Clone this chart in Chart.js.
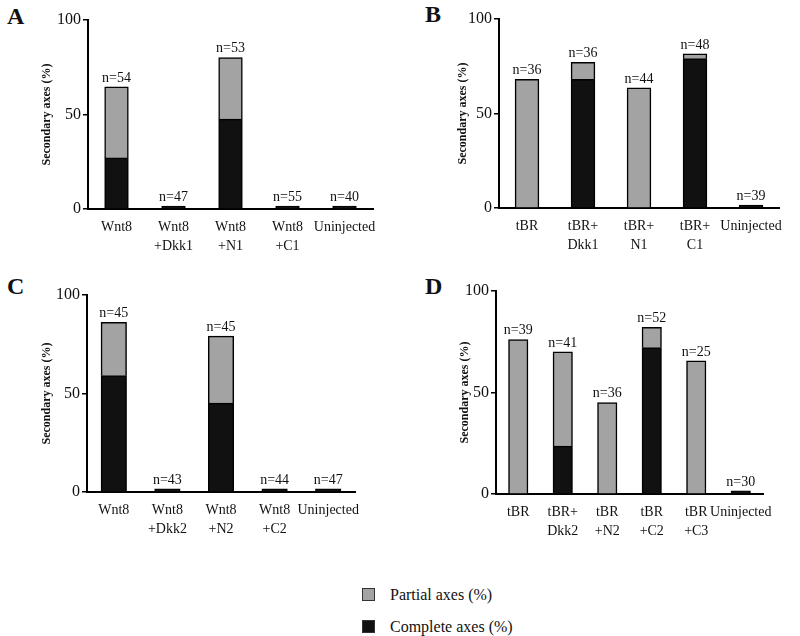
<!DOCTYPE html>
<html>
<head>
<meta charset="utf-8">
<script src="https://cdn.jsdelivr.net/npm/chart.js@4.4.0/dist/chart.umd.min.js"></script>
<style>
    body { margin: 0; background: #fff; font-family: 'Liberation Serif', serif; }
    .panel { position: absolute; }
    .letter { position: absolute; font-weight: bold; font-size: 24px; color: #111; }
    .legend { position: absolute; left: 362px; font-size: 16px; color: #111; }
    .legend span.box { display: inline-block; width: 11px; height: 11px; border: 1px solid #333; margin-right: 15px; vertical-align: -1px; }
</style>
</head>
<body>
<div class="letter" style="left:7px; top:3px;">A</div>
<div class="letter" style="left:425px; top:1px;">B</div>
<div class="letter" style="left:7px; top:273px;">C</div>
<div class="letter" style="left:425px; top:273px;">D</div>

<div class="panel" style="left:0; top:0; width:400px; height:260px;"><canvas id="chartA"></canvas></div>
<div class="panel" style="left:400px; top:0; width:400px; height:260px;"><canvas id="chartB"></canvas></div>
<div class="panel" style="left:0; top:270px; width:400px; height:270px;"><canvas id="chartC"></canvas></div>
<div class="panel" style="left:400px; top:270px; width:400px; height:270px;"><canvas id="chartD"></canvas></div>

<div class="legend" style="top:586px;"><span class="box" style="background:#a3a3a3;"></span>Partial axes (%)</div>
<div class="legend" style="top:618px;"><span class="box" style="background:#111;"></span>Complete axes (%)</div>

<script>
// Panel A
const labelsA = [['Wnt8'], ['Wnt8', '+Dkk1'], ['Wnt8', '+N1'], ['Wnt8', '+C1'], ['Uninjected']];
const completeA = [27, 1.5, 47.5, 1.5, 1.5];
const partialA = [37.5, 0, 32.5, 0, 0];
const countsA = [54, 47, 53, 55, 40];

// Panel B
const labelsB = [['tBR'], ['tBR+', 'Dkk1'], ['tBR+', 'N1'], ['tBR+', 'C1'], ['Uninjected']];
const completeB = [0, 68, 0, 79, 1.5];
const partialB = [68, 9, 63.5, 2.5, 0];
const countsB = [36, 36, 44, 48, 39];

// Panel C
const labelsC = [['Wnt8'], ['Wnt8', '+Dkk2'], ['Wnt8', '+N2'], ['Wnt8', '+C2'], ['Uninjected']];
const completeC = [59, 1.5, 45, 1.5, 1.5];
const partialC = [27, 0, 34, 0, 0];
const countsC = [45, 43, 45, 44, 47];

// Panel D
const labelsD = [['tBR'], ['tBR+', 'Dkk2'], ['tBR', '+N2'], ['tBR', '+C2'], ['tBR', '+C3'], ['Uninjected']];
const completeD = [0, 23.5, 0, 72, 0, 1.5];
const partialD = [76, 46.5, 45, 10, 65.5, 0];
const countsD = [39, 41, 36, 52, 25, 30];

const yTicks = [0, 50, 100];

const serif = 'Liberation Serif';
const partialColor = '#a3a3a3';
const completeColor = '#111111';

// draws the "n=.." counts above each stacked bar
const countLabels = {
    id: 'countLabels',
    afterDatasetsDraw(chart) {
        const counts = chart.options.plugins.countLabels.counts;
        const ctx = chart.ctx;
        const xScale = chart.scales.x;
        const yScale = chart.scales.y;
        ctx.save();
        ctx.font = '14px "' + serif + '"';
        ctx.fillStyle = '#111';
        ctx.textAlign = 'center';
        ctx.textBaseline = 'bottom';
        counts.forEach((n, i) => {
            const total = chart.data.datasets.reduce((sum, ds) => sum + ds.data[i], 0);
            const x = xScale.getPixelForValue(i);
            const y = yScale.getPixelForValue(total);
            ctx.fillText('n=' + n, x, y - 2);
        });
        ctx.restore();
    }
};

function makeChart(id, labels, complete, partial, counts, cfg) {
    const ctx = document.getElementById(id).getContext('2d');
    return new Chart(ctx, {
        type: 'bar',
        data: {
            labels: labels,
            datasets: [{
                label: 'Complete axes (%)',
                data: complete,
                backgroundColor: completeColor,
                borderColor: '#000',
                borderWidth: 1.5,
                inflateAmount: 0.5
            }, {
                label: 'Partial axes (%)',
                data: partial,
                backgroundColor: partialColor,
                borderColor: '#000',
                borderWidth: 1.5,
                inflateAmount: 0.5
            }]
        },
        options: {
            responsive: true,
            maintainAspectRatio: false,
            animation: false,
            datasets: {
                bar: {
                    categoryPercentage: 1,
                    barPercentage: cfg.barPct
                }
            },
            layout: {
                padding: { left: cfg.padLeft, right: cfg.padRight, top: cfg.padTop, bottom: 0 }
            },
            plugins: {
                legend: { display: false },
                tooltip: { enabled: false },
                countLabels: { counts: counts }
            },
            scales: {
                x: {
                    stacked: true,
                    grid: { display: false },
                    border: { display: true, color: '#000', width: 2 },
                    ticks: {
                        color: '#111',
                        padding: 1,
                        maxRotation: 0,
                        autoSkip: false,
                        font: { family: serif, size: 14, lineHeight: 1.35 }
                    },
                    afterFit: scale => { scale.height = cfg.xHeight; }
                },
                y: {
                    stacked: true,
                    min: 0,
                    max: 100,
                    afterBuildTicks: scale => { scale.ticks = yTicks.map(v => ({ value: v })); },
                    grid: {
                        display: true,
                        drawOnChartArea: false,
                        drawTicks: true,
                        tickLength: 5,
                        color: '#000',
                        lineWidth: 1.5
                    },
                    border: { display: true, color: '#000', width: 2 },
                    ticks: {
                        color: '#111',
                        padding: 2,
                        font: { family: serif, size: 16 }
                    },
                    title: {
                        display: true,
                        text: 'Secondary axes (%)',
                        color: '#111',
                        padding: { top: 4, bottom: 0 },
                        font: { family: serif, size: 12, weight: 'bold' }
                    },
                    afterFit: scale => { scale.width = cfg.yWidth; }
                }
            }
        },
        plugins: [countLabels]
    });
}

makeChart('chartA', labelsA, completeA, partialA, countsA,
    { barPct: 0.41, padLeft: 36, padRight: 27, padTop: 20, xHeight: 51, yWidth: 52 });
makeChart('chartB', labelsB, completeB, partialB, countsB,
    { barPct: 0.42, padLeft: 52, padRight: 21, padTop: 19, xHeight: 52, yWidth: 47 });
makeChart('chartC', labelsC, completeC, partialC, countsC,
    { barPct: 0.47, padLeft: 36, padRight: 45, padTop: 25, xHeight: 48, yWidth: 51 });
makeChart('chartD', labelsD, completeD, partialD, countsD,
    { barPct: 0.43, padLeft: 54, padRight: 37, padTop: 21, xHeight: 46, yWidth: 42 });
</script>
</body>
</html>
